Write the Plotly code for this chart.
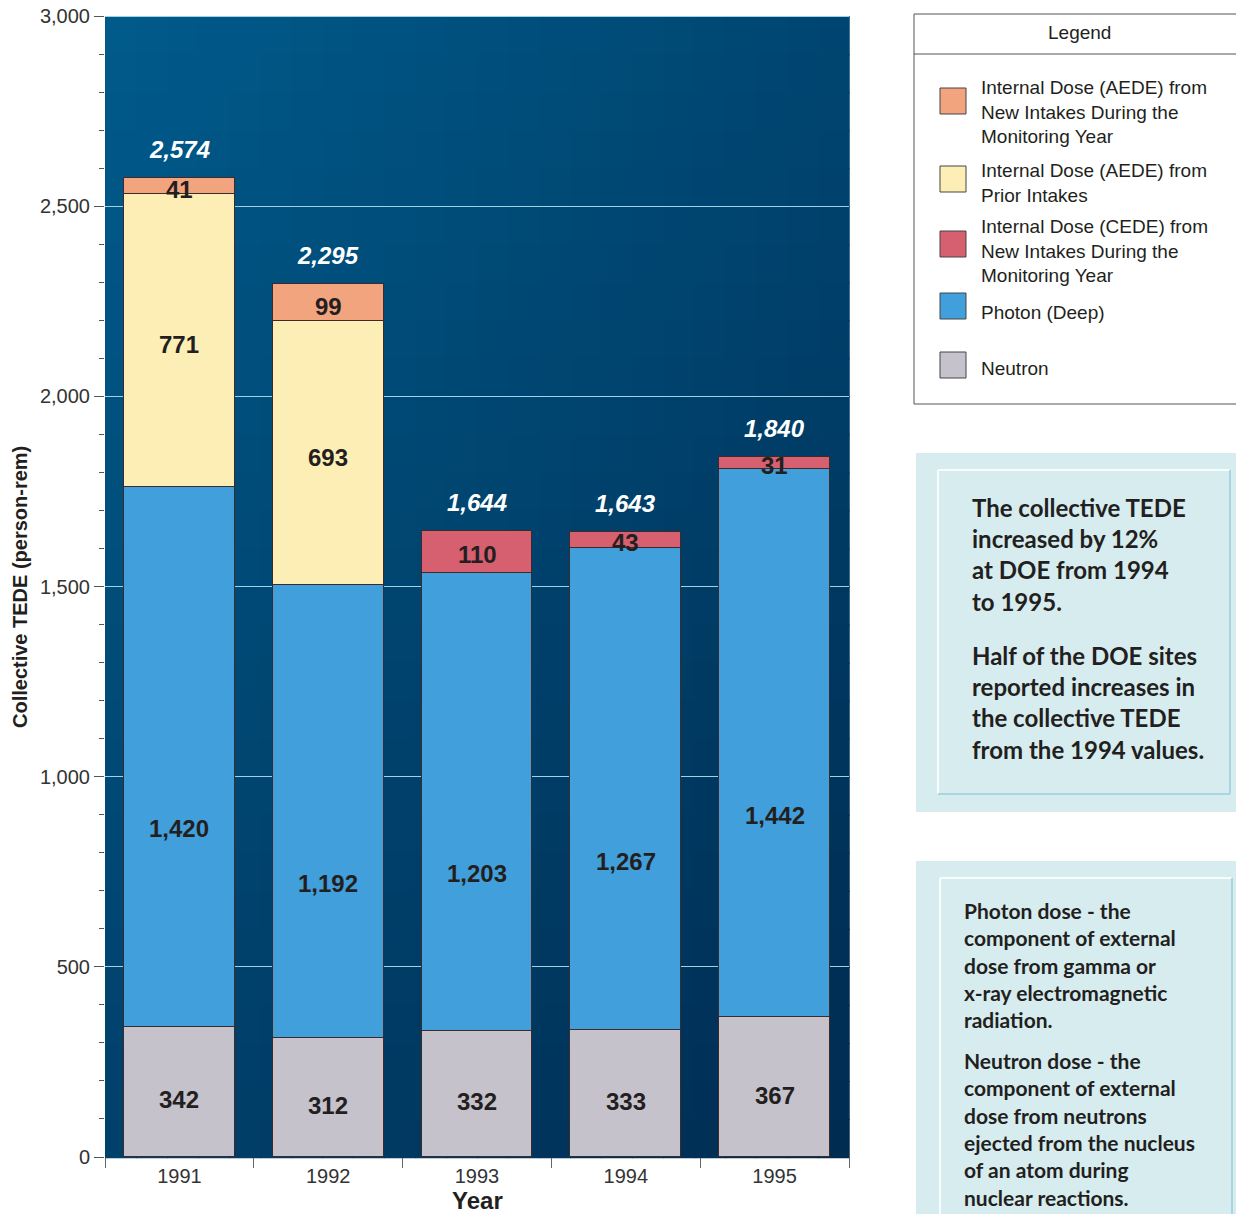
import plotly.graph_objects as go

# ---------------- data ----------------
years = [1991, 1992, 1993, 1994, 1995]
neutron = [342, 312, 332, 333, 367]
photon = [1420, 1192, 1203, 1267, 1442]
aede_prior = [771, 693, None, None, None]
aede_new = [41, 99, None, None, None]
cede_new = [None, None, 110, 43, 31]
totals = [2574, 2295, 1644, 1643, 1840]

names = {
    "aede_new": "Internal Dose (AEDE) from<br>New Intakes During the<br>Monitoring Year",
    "aede_prior": "Internal Dose (AEDE) from<br>Prior Intakes",
    "cede_new": "Internal Dose (CEDE) from<br>New Intakes During the<br>Monitoring Year",
    "photon": "Photon (Deep)",
    "neutron": "Neutron",
}
colors = {
    "neutron": "#c5c2cc",
    "photon": "#419fdb",
    "aede_prior": "#fdeeb5",
    "aede_new": "#f2a47f",
    "cede_new": "#d65f70",
}
stack = [("neutron", neutron), ("photon", photon), ("aede_prior", aede_prior),
         ("aede_new", aede_new), ("cede_new", cede_new)]
label_shift = {"neutron": -8, "photon": -72, "aede_prior": -4, "aede_new": -4, "cede_new": -2}

PAGE_W, PAGE_H = 1244, 1214
OFF = 8  # page body margin
W, H = PAGE_W - OFF, PAGE_H - OFF
L, R, T, B = 105, 849, 16, 1157  # plot area in page pixels


def px(x):
    return (x - L) / (R - L)


def py(y):
    return (B - y) / (B - T)


FONT = "Liberation Sans, Arial, sans-serif"
BOXFONT = "Lato, Open Sans, sans-serif"

fig = go.Figure()
for key, vals in stack:
    fig.add_trace(go.Bar(
        x=years, y=vals, name=key, width=0.745,
        marker=dict(color=colors[key], line=dict(color="#3d2b2b", width=1)),
        showlegend=False, hoverinfo="skip"))

annotations = []
# segment labels
base = [0] * len(years)
for key, vals in stack:
    for i, v in enumerate(vals):
        if v:
            annotations.append(dict(
                x=years[i], y=base[i] + v / 2, xref="x", yref="y",
                xanchor="center", yanchor="middle",
                text=f"<b>{v:,}</b>", showarrow=False, yshift=label_shift[key],
                font=dict(family=FONT, size=24, color="#231f20")))
            base[i] += v
# totals
for i, t in enumerate(totals):
    annotations.append(dict(
        x=years[i], y=base[i], xref="x", yref="y", text=f"<b><i>{t:,}</i></b>",
        showarrow=False, xanchor="center", yanchor="bottom", yshift=13,
        font=dict(family=FONT, size=24, color="white")))

# axis titles
annotations.append(dict(x=px(20), y=py(587), xref="paper", yref="paper", textangle=-90,
                        xanchor="center", yanchor="middle",
                        text="<b>Collective TEDE (person-rem)</b>", showarrow=False,
                        font=dict(family=FONT, size=20, color="#231f20")))
annotations.append(dict(x=px(477), y=py(1200), xref="paper", yref="paper",
                        xanchor="center", yanchor="middle",
                        text="<b>Year</b>", showarrow=False,
                        font=dict(family=FONT, size=24, color="#231f20")))

shapes = []
# background gradient (diagonal, lighter top-left to darker bottom-right)
NX, NY = 24, 30
c_tl = (0, 90, 138)
c_br = (0, 44, 82)
for i in range(NX):
    for j in range(NY):
        f = (i / (NX - 1) * 0.45 + j / (NY - 1) * 0.55)
        c = tuple(int(round(a + (b - a) * f)) for a, b in zip(c_tl, c_br))
        shapes.append(dict(type="rect", xref="paper", yref="paper", layer="below",
                           x0=i / NX, x1=(i + 1) / NX + 0.001,
                           y0=1 - (j + 1) / NY - 0.001, y1=1 - j / NY,
                           fillcolor=f"rgb{c}", line=dict(width=0)))
# light line along the 3,000 edge
shapes.append(dict(type="line", xref="paper", yref="y", layer="below", x0=0, x1=1,
                   y0=3000, y1=3000, line=dict(color="#9fd2e4", width=2)))

# legend box
shapes.append(dict(type="rect", xref="paper", yref="paper", x0=px(914), x1=px(1250),
                   y0=py(404), y1=py(14), line=dict(color="#555", width=1),
                   fillcolor="white"))
shapes.append(dict(type="line", xref="paper", yref="paper", x0=px(914), x1=px(1250),
                   y0=py(54), y1=py(54), line=dict(color="#555", width=1)))
annotations.append(dict(x=px(1079), y=py(33), xref="paper", yref="paper", text="Legend",
                        xanchor="center", yanchor="middle",
                        showarrow=False, font=dict(family=FONT, size=19, color="#231f20")))
legend_items = ["aede_new", "aede_prior", "cede_new", "photon", "neutron"]
sw_top = [88, 166, 231, 293, 352]
txt_mid = [112, 183, 251, 312, 368]
for key, st, tm in zip(legend_items, sw_top, txt_mid):
    shapes.append(dict(type="rect", xref="paper", yref="paper", x0=px(940), x1=px(966),
                       y0=py(st + 26), y1=py(st), fillcolor=colors[key],
                       line=dict(color="#444", width=1)))
    annotations.append(dict(x=px(979), y=py(tm), xref="paper", yref="paper",
                            xanchor="left", yanchor="middle", align="left",
                            text=names[key], showarrow=False,
                            font=dict(family=FONT, size=19, color="#231f20")))


# info boxes
def info_box(ox0, oy0, ox1, oy1, ix0, iy0, ix1, iy1):
    shapes.append(dict(type="rect", xref="paper", yref="paper", x0=px(ox0), x1=px(ox1),
                       y0=py(oy1), y1=py(oy0), fillcolor="#d6ecef", line=dict(width=0)))
    shapes.append(dict(type="line", xref="paper", yref="paper", x0=px(ix0), x1=px(ix1),
                       y0=py(iy0), y1=py(iy0), line=dict(color="#f7fcfc", width=2)))
    shapes.append(dict(type="line", xref="paper", yref="paper", x0=px(ix0), x1=px(ix0),
                       y0=py(iy0), y1=py(iy1), line=dict(color="#f7fcfc", width=2)))
    shapes.append(dict(type="line", xref="paper", yref="paper", x0=px(ix1), x1=px(ix1),
                       y0=py(iy0), y1=py(iy1), line=dict(color="#a9d5e2", width=2)))
    shapes.append(dict(type="line", xref="paper", yref="paper", x0=px(ix0), x1=px(ix1),
                       y0=py(iy1), y1=py(iy1), line=dict(color="#a9d5e2", width=2)))


info_box(916, 453, 1250, 812, 938, 470, 1230, 794)
info_box(916, 861, 1250, 1240, 940, 878, 1232, 1240)

box_texts = [
    ("The collective TEDE<br>increased by 12%<br>at DOE from 1994<br>to 1995.", 970, 491, 24),
    ("Half of the DOE sites<br>reported increases in<br>the collective TEDE<br>from the 1994 values.", 970, 639, 24),
    ("Photon dose - the<br>component of external<br>dose from gamma or<br>x-ray electromagnetic<br>radiation.", 962, 896, 21),
    ("Neutron dose - the<br>component of external<br>dose from neutrons<br>ejected from the nucleus<br>of an atom during<br>nuclear reactions.", 962, 1046, 21),
]
for txt, x, y, s in box_texts:
    annotations.append(dict(x=px(x), y=py(y), xref="paper", yref="paper",
                            xanchor="left", yanchor="top", align="left",
                            text=f"<b>{txt}</b>", showarrow=False,
                            font=dict(family=BOXFONT, size=s, color="#231f20")))

fig.update_layout(
    width=W, height=H, barmode="stack",
    margin=dict(l=L - OFF, r=W - (R - OFF), t=T - OFF, b=H - (B - OFF), pad=0,
                autoexpand=False),
    paper_bgcolor="white", plot_bgcolor="#004a76",
    font=dict(family=FONT, size=20, color="#333"),
    shapes=shapes, annotations=annotations, showlegend=False,
    bargap=0,
)
fig.update_xaxes(
    range=[1990.5, 1995.5], tickvals=years, ticktext=[str(y) for y in years],
    ticks="outside", ticklen=1, tickcolor="rgba(0,0,0,0)", showgrid=False,
    zeroline=False, showline=False, automargin=False, ticklabeloverflow="allow",
    tickfont=dict(family=FONT, size=20, color="#333"),
    minor=dict(tick0=1990.5, dtick=1, ticks="outside", ticklen=10,
               tickcolor="#666", tickwidth=1, showgrid=False),
)
fig.update_yaxes(
    range=[0, 3000], dtick=500, tickformat=",", ticks="outside", ticklen=10,
    tickcolor="#555", tickwidth=1, showgrid=True, gridcolor="#9fd2e4", gridwidth=1,
    zeroline=False, showline=False, automargin=False, ticklabeloverflow="allow",
    tickfont=dict(family=FONT, size=20, color="#333"),
    minor=dict(dtick=100, ticks="outside", ticklen=5, tickcolor="#555",
               showgrid=False),
)

fig.write_html("out.html")
